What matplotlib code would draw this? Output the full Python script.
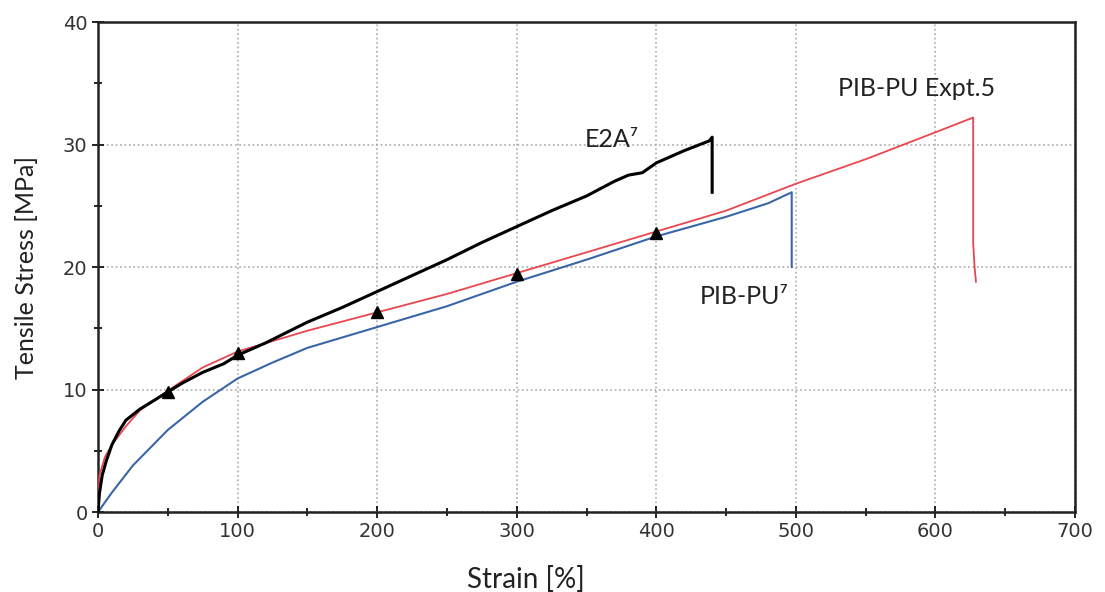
import matplotlib
matplotlib.use('Agg')
import matplotlib.pyplot as plt
from matplotlib.ticker import MultipleLocator

# E2A^7 (black)
e2a_x = [0, 1, 3, 6, 10, 15, 20, 30, 40, 50, 60, 75, 90, 100, 120, 150, 175, 200, 225, 250, 275,
         300, 325, 350, 370, 380, 390, 400, 420, 438, 440, 440]
e2a_y = [0, 1.5, 3.0, 4.2, 5.5, 6.6, 7.5, 8.4, 9.1, 9.8, 10.5, 11.4, 12.1, 12.8, 13.8, 15.5, 16.7, 18.0,
         19.3, 20.6, 22.0, 23.3, 24.6, 25.8, 27.0, 27.5, 27.7, 28.5, 29.5, 30.3, 30.6, 26.1]

# PIB-PU^7 (blue)
pibpu_x = [0, 10, 25, 50, 75, 100, 125, 150, 200, 250, 300, 350, 400, 450, 480, 497, 497]
pibpu_y = [0, 1.6, 3.8, 6.7, 9.0, 10.9, 12.2, 13.4, 15.1, 16.8, 18.8, 20.6, 22.5, 24.1, 25.2, 26.1, 20.0]

# PIB-PU Expt.5 (red)
expt_x = [0, 1, 5, 10, 20, 30, 50, 75, 100, 150, 200, 250, 300, 350, 400, 450, 500, 550, 600,
          627, 627, 628, 629]
expt_y = [0, 3.0, 4.5, 5.5, 7.0, 8.3, 9.9, 11.8, 13.1, 14.8, 16.3, 17.8, 19.5, 21.2, 22.9, 24.6,
          26.8, 28.8, 31.0, 32.2, 22.0, 20.0, 18.8]

# triangle markers
tri_x = [50, 100, 200, 300, 400]
tri_y = [9.8, 13.0, 16.3, 19.4, 22.8]

fig = plt.figure(figsize=(11.05, 5.92), dpi=100)
ax = fig.add_axes([0.0887, 0.1351, 0.8842, 0.8277])

ax.plot(expt_x, expt_y, color='#e8474f', lw=1.3, zorder=3)
ax.plot(pibpu_x, pibpu_y, color='#3a66a8', lw=1.5, zorder=2)
ax.plot(e2a_x, e2a_y, color='black', lw=2.2, zorder=4)
ax.plot(tri_x, tri_y, '^', color='black', ms=9, zorder=5)

ax.text(349, 30.4, 'E2A\u2077', fontsize=18, family=['Lato', 'DejaVu Sans'], color='#222222', va='center')
ax.text(431, 17.6, 'PIB-PU\u2077', fontsize=18, family=['Lato', 'DejaVu Sans'], color='#222222', va='center')
ax.text(530, 34.6, 'PIB-PU Expt.5', fontsize=18, family='Lato', color='#222222', va='center')

ax.set_xlim(0, 700)
ax.set_ylim(0, 40)
ax.xaxis.set_major_locator(MultipleLocator(100))
ax.xaxis.set_minor_locator(MultipleLocator(50))
ax.yaxis.set_major_locator(MultipleLocator(10))
ax.yaxis.set_minor_locator(MultipleLocator(5))
ax.tick_params(which='both', direction='inout', labelsize=14, labelcolor='#333333', width=1.2)
ax.tick_params(which='major', length=8)
ax.tick_params(which='minor', length=6)
ax.grid(True, which='major', ls=':', color='#aaaaaa', lw=1.2)

for s in ax.spines.values():
    s.set_linewidth(1.8)
    s.set_color('#222222')

ax.set_xlabel('Strain [%]', fontsize=20, family='Lato', color='#222222')
ax.set_ylabel('Tensile Stress [MPa]', fontsize=18, family='Lato', color='#222222')
ax.xaxis.set_label_coords(0.438, -0.11)
ax.yaxis.set_label_coords(-0.061, 0.5)

fig.savefig('out.png', dpi=100)
